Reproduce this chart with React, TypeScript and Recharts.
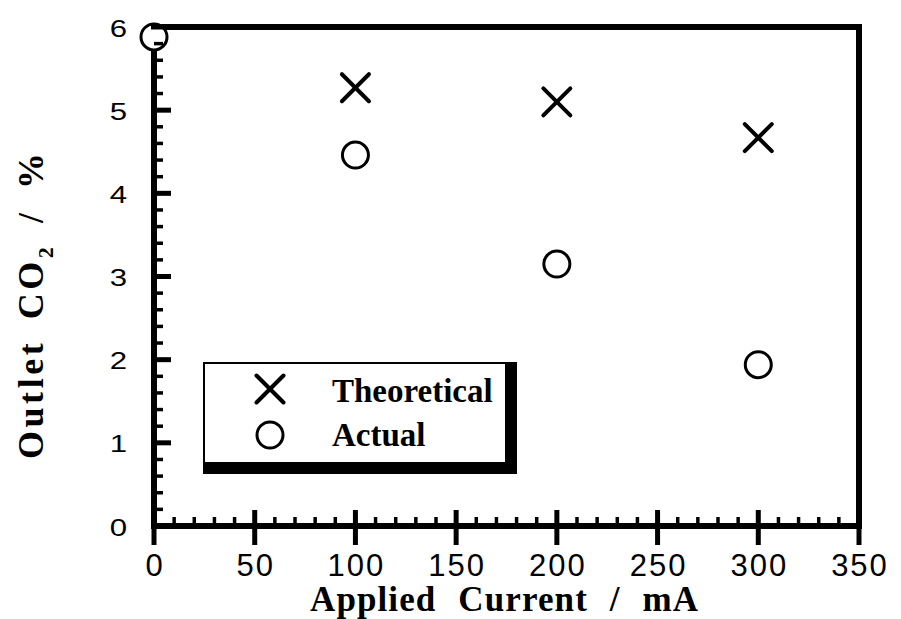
import React from 'react';
import { ScatterChart, Scatter, XAxis, YAxis, ReferenceArea, Legend } from 'recharts';

// values (applied current in mA, outlet CO2 in %)
const theoreticalCurrent = [100, 200, 300];
const theoreticalCO2 = [5.27, 5.1, 4.67];
const actualCurrent = [0, 100, 200, 300];
const actualCO2 = [5.88, 4.46, 3.15, 1.94];

const xMajorTicks = [0, 50, 100, 150, 200, 250, 300, 350];
const xAllTicks = [
  0, 10, 20, 30, 40, 50, 60, 70, 80, 90, 100, 110, 120, 130, 140, 150, 160, 170,
  180, 190, 200, 210, 220, 230, 240, 250, 260, 270, 280, 290, 300, 310, 320, 330, 340, 350,
];
const yMajorTicks = [0, 1, 2, 3, 4, 5, 6];
const yAllTicks = [
  0, 0.2, 0.4, 0.6, 0.8, 1, 1.2, 1.4, 1.6, 1.8, 2, 2.2, 2.4, 2.6, 2.8, 3, 3.2, 3.4,
  3.6, 3.8, 4, 4.2, 4.4, 4.6, 4.8, 5, 5.2, 5.4, 5.6, 5.8, 6,
];

const theoretical = theoreticalCurrent.map((x, i) => ({ x, y: theoreticalCO2[i] }));
const actual = actualCurrent.map((x, i) => ({ x, y: actualCO2[i] }));

const SERIF = '"Liberation Serif", "Times New Roman", serif';
const SANS = '"Liberation Sans", Arial, Helvetica, sans-serif';

const Cross = ({ cx, cy }: { cx: number; cy: number }) => (
  <g>
    <line x1={cx - 13.5} y1={cy - 13.5} x2={cx + 13.5} y2={cy + 13.5} stroke="#000" strokeWidth={4} strokeLinecap="round" />
    <line x1={cx - 13.5} y1={cy + 13.5} x2={cx + 13.5} y2={cy - 13.5} stroke="#000" strokeWidth={4} strokeLinecap="round" />
  </g>
);

const Ring = ({ cx, cy }: { cx: number; cy: number }) => (
  <circle cx={cx} cy={cy} r={13} fill="#fff" stroke="#000" strokeWidth={3} />
);

const XTick = (props: any) => {
  const { x, y, payload } = props;
  const major = xMajorTicks.includes(payload.value);
  return (
    <g>
      {major ? (
        <line x1={x} x2={x} y1={y - 16} y2={y + 19} stroke="#000" strokeWidth={5} />
      ) : (
        <line x1={x} x2={x} y1={y - 9} y2={y} stroke="#000" strokeWidth={3.5} />
      )}
      {major && (
        <text x={x + 1} y={y + 50} textAnchor="middle" fontFamily={SANS} fontSize={31} letterSpacing={2} fill="#000">
          {payload.value}
        </text>
      )}
    </g>
  );
};

const YTick = (props: any) => {
  const { x, y, payload } = props;
  const major = yMajorTicks.includes(payload.value);
  return (
    <g>
      {major ? (
        <line x1={x - 3} x2={x + 17} y1={y} y2={y} stroke="#000" strokeWidth={5} />
      ) : (
        <line x1={x} x2={x + 9} y1={y} y2={y} stroke="#000" strokeWidth={3.5} />
      )}
      {major && (
        <text
          transform={`translate(${x - 27},${y + 1}) scale(1.3,1)`}
          textAnchor="end"
          dy="0.36em"
          fontFamily={SANS}
          fontSize={24}
          fill="#000"
        >
          {payload.value}
        </text>
      )}
    </g>
  );
};

const LegendBox = () => (
  <div
    style={{
      width: 300,
      height: 98,
      borderStyle: 'solid',
      borderColor: '#000',
      borderWidth: '2px 12px 12px 2px',
      background: '#fff',
    }}
  >
    <svg width={300} height={98} style={{ display: 'block' }}>
      <Cross cx={65} cy={25} />
      <text x={127} y={38} fontFamily={SERIF} fontWeight="bold" fontSize={33} fill="#000">
        Theoretical
      </text>
      <Ring cx={65} cy={71} />
      <text x={127} y={82} fontFamily={SERIF} fontWeight="bold" fontSize={33} fill="#000">
        Actual
      </text>
    </svg>
  </div>
);

const App = () => {
  return (
    <div style={{ position: 'absolute', left: 0, top: 0, width: 901, height: 619, background: '#fff' }}>
      <ScatterChart width={901} height={619} margin={{ top: 27, right: 42, bottom: 0, left: 94 }}>
        <XAxis
          dataKey="x"
          type="number"
          domain={[0, 350]}
          ticks={xAllTicks}
          interval={0}
          tickSize={0}
          tickMargin={0}
          tickLine={false}
          axisLine={false}
          height={93}
          tick={(p: any) => <XTick {...p} />}
          label={{
            content: () => (
              <text
                x={504}
                y={611}
                textAnchor="middle"
                fontFamily={SERIF}
                fontWeight="bold"
                fontSize={35}
                wordSpacing={12}
                textLength={388}
                lengthAdjust="spacing"
                fill="#000"
              >
                Applied Current / mA
              </text>
            ),
          }}
        />
        <YAxis
          dataKey="y"
          type="number"
          domain={[0, 6]}
          ticks={yAllTicks}
          interval={0}
          tickSize={0}
          tickMargin={0}
          tickLine={false}
          axisLine={false}
          width={60}
          tick={(p: any) => <YTick {...p} />}
          label={{
            content: () => (
              <text
                x={43}
                y={306}
                transform="rotate(-90, 43, 306)"
                textAnchor="middle"
                fontFamily={SERIF}
                fontWeight="bold"
                fontSize={36}
                wordSpacing={8}
                textLength={306}
                lengthAdjust="spacing"
                fill="#000"
              >
                Outlet CO
                <tspan dy={10} fontSize={22}>2</tspan>
                <tspan dy={-10}> / %</tspan>
              </text>
            ),
          }}
        />
        <ReferenceArea x1={0} x2={350} y1={0} y2={6} fill="none" stroke="#000" strokeWidth={6} />
        <Legend
          layout="vertical"
          align="center"
          verticalAlign="middle"
          wrapperStyle={{ left: 203, top: 362, width: 314, height: 112 }}
          content={() => <LegendBox />}
        />
        <Scatter
          name="Theoretical"
          data={theoretical}
          isAnimationActive={false}
          shape={(p: any) => <Cross cx={p.cx} cy={p.cy} />}
        />
        <Scatter
          name="Actual"
          data={actual}
          isAnimationActive={false}
          shape={(p: any) => <Ring cx={p.cx} cy={p.cy} />}
        />
      </ScatterChart>
    </div>
  );
};

export default App;
